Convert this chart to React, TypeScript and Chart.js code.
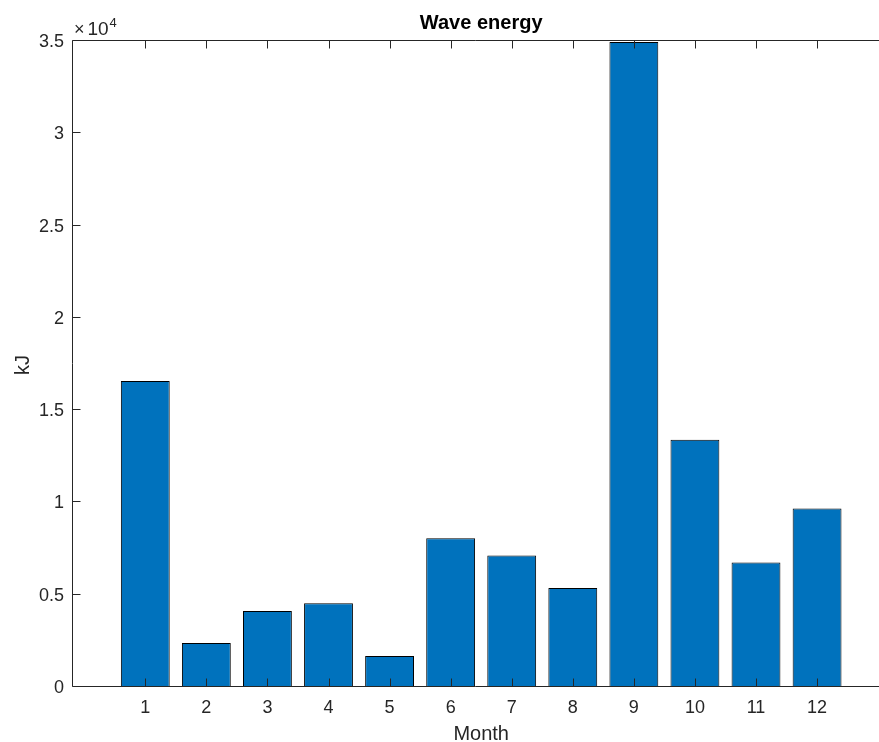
import React, { useEffect, useRef } from "react";
import { Chart, registerables } from "chart.js";

Chart.register(...registerables);

const months = [1, 2, 3, 4, 5, 6, 7, 8, 9, 10, 11, 12];
const energyKJ = [16530, 2330, 4060, 4490, 1620, 8010, 7070, 5310, 34890, 13340, 6690, 9620];
const yTicks = [0, 5000, 10000, 15000, 20000, 25000, 30000, 35000];
const chartTitle = "Wave energy";
const xTitle = "Month";
const yTitle = "kJ";

const FONT = "'Liberation Sans', Arial, Helvetica, sans-serif";
const AXIS = "#262626";

const matlabAxes = {
  id: "matlabAxes",
  afterDatasetsDraw(chart: any) {
    const { ctx, chartArea } = chart;
    const xs = chart.scales.x;
    const ys = chart.scales.y;
    const L = Math.round(chartArea.left) + 0.5;
    const T = Math.round(chartArea.top) + 0.5;
    const B = Math.round(chartArea.bottom) + 0.5;
    const R = chartArea.right;
    const tl = 8;
    ctx.save();
    ctx.strokeStyle = AXIS;
    ctx.lineWidth = 1;
    ctx.beginPath();
    ctx.moveTo(L, T);
    ctx.lineTo(R, T);
    ctx.moveTo(L, T);
    ctx.lineTo(L, B);
    ctx.lineTo(R, B);
    months.forEach((m) => {
      const x = Math.round(xs.getPixelForValue(m)) + 0.5;
      ctx.moveTo(x, B);
      ctx.lineTo(x, B - tl);
      ctx.moveTo(x, T);
      ctx.lineTo(x, T + tl);
    });
    yTicks.forEach((v) => {
      const y = Math.round(ys.getPixelForValue(v)) + 0.5;
      ctx.moveTo(L, y);
      ctx.lineTo(L + tl, y);
    });
    ctx.stroke();

    const cx = xs.getPixelForValue(6.5);
    ctx.fillStyle = "#000";
    ctx.font = `bold 20px ${FONT}`;
    ctx.textAlign = "center";
    ctx.textBaseline = "alphabetic";
    ctx.fillText(chartTitle, cx, 28.5);

    ctx.fillStyle = AXIS;
    ctx.font = `20px ${FONT}`;
    ctx.fillText(xTitle, cx, 740);

    ctx.save();
    ctx.translate(29, (chartArea.top + chartArea.bottom) / 2 + 2);
    ctx.rotate(-Math.PI / 2);
    ctx.fillText(yTitle, 0, 0);
    ctx.restore();

    ctx.textAlign = "left";
    ctx.font = `18px ${FONT}`;
    ctx.fillText("\u00d7", 74, 35);
    ctx.font = `19px ${FONT}`;
    ctx.fillText("10", 87.5, 35);
    ctx.font = `13px ${FONT}`;
    ctx.fillText("4", 109.5, 27);
    ctx.restore();
  },
};

export default function App() {
  const ref = useRef<HTMLCanvasElement | null>(null);
  useEffect(() => {
    if (!ref.current) return;
    const chart = new Chart(ref.current, {
      type: "bar",
      data: {
        datasets: [
          {
            data: months.map((m, i) => ({ x: m, y: energyKJ[i] })),
            backgroundColor: "#0072BD",
            borderColor: "#000000",
            borderWidth: 1,
            barPercentage: 0.8,
            categoryPercentage: 1,
          },
        ],
      },
      options: {
        animation: false,
        responsive: true,
        maintainAspectRatio: false,
        layout: { padding: { top: 40, left: 0, right: 0, bottom: 0 } },
        plugins: {
          legend: { display: false },
          tooltip: { enabled: false },
          title: { display: false },
        },
        scales: {
          x: {
            type: "linear",
            min: -0.2,
            max: 13.014,
            offset: false,
            grid: { display: false, drawTicks: false, offset: false },
            border: { display: false },
            afterBuildTicks: (s: any) => {
              s.ticks = months.map((v) => ({ value: v }));
            },
            afterFit: (s: any) => {
              s.height = 56;
            },
            ticks: {
              font: { family: FONT, size: 18 },
              color: AXIS,
              padding: 11,
              maxRotation: 0,
              autoSkip: false,
              callback: (v: any) => String(v),
            },
          },
          y: {
            min: 0,
            max: 35000,
            grid: { display: false, drawTicks: false },
            border: { display: false },
            afterBuildTicks: (s: any) => {
              s.ticks = yTicks.map((v) => ({ value: v }));
            },
            afterFit: (s: any) => {
              s.width = 72;
            },
            ticks: {
              font: { family: FONT, size: 18 },
              color: AXIS,
              padding: 8,
              labelOffset: 2,
              callback: (v: any) => String(Number(v) / 10000),
            },
          },
        },
      } as any,
      plugins: [matlabAxes],
    });
    return () => chart.destroy();
  }, []);
  return (
    <div
      style={{
        position: "fixed",
        left: 0,
        top: 0,
        width: 879,
        height: 742,
        background: "#fff",
      }}
    >
      <canvas ref={ref} />
    </div>
  );
}
